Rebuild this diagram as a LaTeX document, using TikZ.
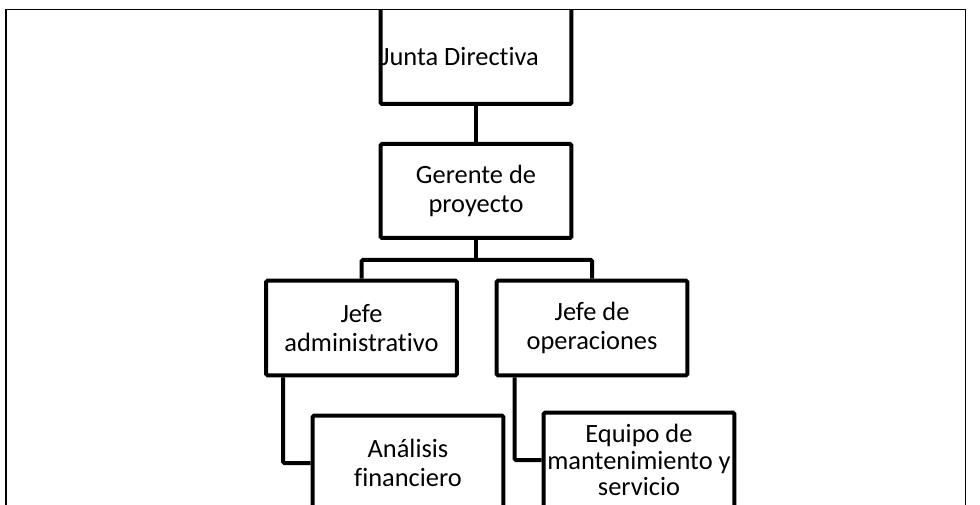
\documentclass[tikz,border=0pt]{standalone}
\usepackage{fontspec}
\setmainfont[Ligatures=CommonOff]{Carlito}
\usetikzlibrary{positioning}

\begin{document}
\begin{tikzpicture}[x=0.75pt,y=-0.75pt,
  puesto/.style={draw,line width=3pt,rounded corners=1pt,minimum width=143pt,minimum height=71pt,align=center,inner sep=0pt,font=\fontsize{19.8}{21.8}\selectfont},
  link/.style={line width=3pt,rounded corners=1pt}]
\useasboundingbox (0,0) rectangle (980,505);
\draw[line width=0.9pt] (6,505) -- (6,9.5) -- (965.5,9.5) -- (965.5,505);
\begin{scope}
\clip (6.5,10) rectangle (965,505);
\node[puesto,minimum height=84pt] (jd) at (476,48) {};
\begin{scope}
\clip (jd.south west) rectangle (jd.north east);
\node[font=\fontsize{19.8}{21.8}\selectfont] (jdtxt) at (460,57) {Junta Directiva};
\end{scope}
\node[puesto,minimum height=70.5pt] (gp) at (476,191) {Gerente de\\proyecto};
\node[puesto] (ja) at (361.5,328) {Jefe\\administrativo};
\node[puesto] (jo) at (592,328) {Jefe de\\operaciones};
\node[puesto] (af) at (408,463) {Análisis\\financiero};
\node[puesto,font=\fontsize{19.8}{19.8}\selectfont] (eq) at (639,460) {Equipo de\\mantenimiento y\\servicio};
\coordinate (bus) at (476,260);
\draw[link] (jd.south) -- (gp.north);
\draw[link] (gp.south) -- (bus);
\draw[link] (ja.north) |- (bus) -| (jo.north);
\draw[link] ([xshift=14.25pt]ja.south west) |- (af.west);
\draw[link] ([xshift=15pt]jo.south west) |- (eq.west);
\end{scope}
\end{tikzpicture}
\end{document}
